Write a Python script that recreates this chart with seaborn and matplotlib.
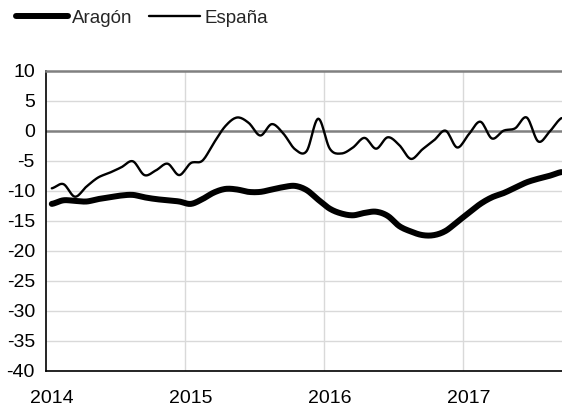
import numpy as np
import pandas as pd
import matplotlib
matplotlib.use("Agg")
import matplotlib.pyplot as plt
import matplotlib.transforms as mtransforms
from matplotlib.lines import Line2D
import seaborn as sns

# Monthly data, Jan 2014 .. Sep 2017
months = pd.date_range("2014-01-01", "2017-09-01", freq="MS")
aragon = [-12.2, -11.6, -11.7, -11.8, -11.4, -11.1, -10.8, -10.7, -11.1, -11.4, -11.6, -11.8,
          -12.2, -11.4, -10.3, -9.7, -9.8, -10.2, -10.2, -9.8, -9.4, -9.2, -9.9, -11.5,
          -13.0, -13.8, -14.1, -13.7, -13.5, -14.2, -15.9, -16.8, -17.4, -17.4, -16.7, -15.2,
          -13.7, -12.2, -11.1, -10.4, -9.5, -8.6, -8.0, -7.5, -6.9]
espana = [-9.6, -8.9, -11.0, -9.3, -7.8, -7.0, -6.1, -5.1, -7.4, -6.6, -5.5, -7.4,
          -5.4, -5.0, -2.0, 0.8, 2.2, 1.3, -0.8, 1.1, -0.5, -3.1, -3.4, 2.0,
          -3.0, -3.8, -2.8, -1.2, -3.0, -1.1, -2.4, -4.7, -3.1, -1.6, 0.0, -2.8,
          -0.6, 1.5, -1.3, 0.0, 0.4, 2.2, -1.8, -0.1, 2.1]
series_names = ["Aragón", "España"]
y_ticks = [10, 5, 0, -5, -10, -15, -20, -25, -30, -35, -40]
x_tick_labels = ["2014", "2015", "2016", "2017"]


def smooth(values, steps=12):
    """Excel-style smoothed line (Catmull-Rom) through the monthly points."""
    v = np.asarray(values, float)
    x = np.arange(len(v)) + 0.5
    px = np.concatenate([[2 * x[0] - x[1]], x, [2 * x[-1] - x[-2]]])
    pv = np.concatenate([[v[0]], v, [v[-1]]])
    xs, ys = [], []
    for i in range(1, len(px) - 2):
        t = np.linspace(0, 1, steps, endpoint=False)
        for arr, out in ((px, xs), (pv, ys)):
            p0, p1, p2, p3 = arr[i - 1], arr[i], arr[i + 1], arr[i + 2]
            out.extend(0.5 * ((2 * p1) + (-p0 + p2) * t
                              + (2 * p0 - 5 * p1 + 4 * p2 - p3) * t ** 2
                              + (-p0 + 3 * p1 - 3 * p2 + p3) * t ** 3))
    xs.append(x[-1]); ys.append(v[-1])
    return np.array(xs), np.array(ys)


frames = []
for name, vals in zip(series_names, [aragon, espana]):
    sx, sy = smooth(vals)
    frames.append(pd.DataFrame({"mes": sx, "valor": sy, "serie": name}))
df = pd.concat(frames, ignore_index=True)

sns.set_theme(style="white")
plt.rcParams["font.family"] = ["Liberation Sans", "DejaVu Sans"]

W, H = 562, 409
fig = plt.figure(figsize=(W / 100, H / 100), dpi=100)
ax = fig.add_axes([46 / W, (H - 370.7) / H, (W - 46) / W, (370.7 - 70.7) / H])

sns.lineplot(data=df, x="mes", y="valor", hue="serie", size="serie",
             sizes={"Aragón": 4.3, "España": 1.7},
             palette={"Aragón": "black", "España": "black"},
             ax=ax, legend=False, sort=False, zorder=3)
for ln in ax.lines:
    ln.set_solid_capstyle("round")
    ln.set_solid_joinstyle("round")

ax.set_xlim(0, (W - 46) / (139 / 12))
ax.set_ylim(-40, 10)

for v in y_ticks:
    if v in (0, 10):
        continue
    ax.axhline(v, color="#d9d9d9", lw=1.0, zorder=0)
for m in [12, 24, 36]:
    ax.axvline(m, color="#d9d9d9", lw=1.0, zorder=0)
ax.axhline(0, color="#808080", lw=1.8, zorder=1)

ax.spines["right"].set_visible(False)
ax.spines["top"].set_color("#808080")
ax.spines["top"].set_linewidth(1.8)
for s in ["left", "bottom"]:
    ax.spines[s].set_color("black")
    ax.spines[s].set_linewidth(1.2)

ax.set_yticks(y_ticks)
ax.set_yticklabels([str(v) for v in y_ticks], fontsize=14)
ax.set_xticks([0, 12, 24, 36])
ax.set_xticklabels(x_tick_labels, fontsize=14)
ax.tick_params(axis="both", length=0, colors="black")
ax.tick_params(axis="y", pad=8)
ax.tick_params(axis="x", pad=14)
offset = mtransforms.ScaledTranslation(5.5 / 100, 0, fig.dpi_scale_trans)
for lbl in ax.get_xticklabels():
    lbl.set_transform(lbl.get_transform() + offset)
ax.set_xlabel("")
ax.set_ylabel("")

handles = [Line2D([0], [0], color="black", lw=4.3, solid_capstyle="round"),
           Line2D([0], [0], color="black", lw=1.7)]
fig.legend(handles, series_names, loc="center left",
           bbox_to_anchor=(16 / W, 1 - 18 / H), ncol=2, frameon=False,
           fontsize=13.5, handlelength=2.75, handletextpad=0.25,
           columnspacing=0.85, borderaxespad=0, borderpad=0)

fig.savefig("out.png", dpi=100)
